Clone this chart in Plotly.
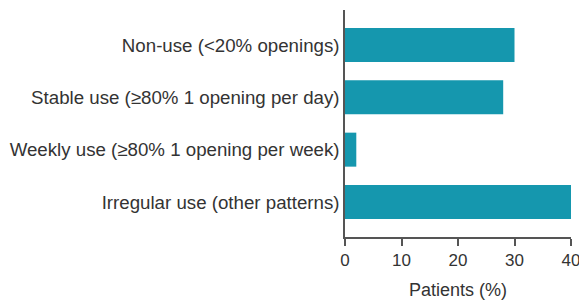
import plotly.graph_objects as go

categories = [
    "Non-use (<20% openings)",
    "Stable use (≥80% 1 opening per day)",
    "Weekly use (≥80% 1 opening per week)",
    "Irregular use (other patterns)",
]
patients_pct = [30, 28, 2, 40]
x_ticks = [0, 10, 20, 30, 40]

fig = go.Figure(go.Bar(
    x=patients_pct,
    y=categories,
    orientation="h",
    marker=dict(color="#1597AE", line=dict(width=0)),
    width=0.65,
))

font_color = "#333333"
fig.update_layout(
    width=579, height=300,
    margin=dict(l=345, r=8, t=10, b=63),
    paper_bgcolor="white", plot_bgcolor="white",
    font=dict(family="Liberation Sans, Arial, sans-serif", size=18, color=font_color),
    showlegend=False,
    xaxis=dict(
        range=[0, 40], tickvals=x_ticks, ticks="outside", ticklen=7, tickwidth=1.5,
        tickcolor="#555555", showline=True, linecolor="#555555", linewidth=1.5,
        showgrid=False, zeroline=False, tickfont=dict(size=17),
        ticklabeloverflow="allow", automargin=False,
        title=dict(text="Patients (%)", font=dict(size=18)),
    ),
    yaxis=dict(
        type="category", categoryorder="array", categoryarray=categories,
        range=[3.67, -0.67], showline=True, linecolor="#555555", linewidth=1.5,
        showgrid=False, zeroline=False, ticks="", tickfont=dict(size=18.7),
        automargin=False,
    ),
)

fig.write_html("out.html", config={"displayModeBar": False},
               post_script="document.body.style.margin='0';")
